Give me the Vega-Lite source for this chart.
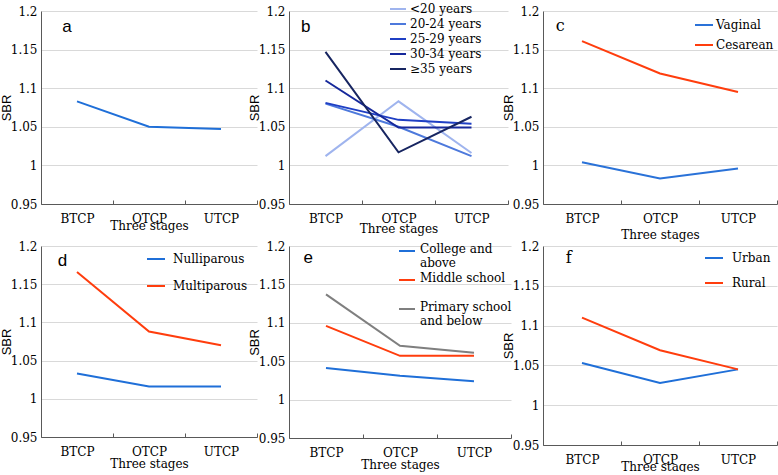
{
  "$schema": "https://vega.github.io/schema/vega-lite/v6.json",
  "background": "white",
  "padding": {"left": 0, "top": 0, "right": 0, "bottom": 0},
  "columns": 3,
  "spacing": {"row": 42, "column": 32},
  "bounds": "flush",
  "resolve": {"scale": {"color": "independent"}, "legend": {"color": "independent"}},
  "concat": [
        {
          "width": 216, "height": 193,
          "layer": [
            {
              "data": {"values": [
                {"stage": "BTCP", "sbr": 1.083},
                {"stage": "OTCP", "sbr": 1.050},
                {"stage": "UTCP", "sbr": 1.047}
              ]},
              "mark": {"type": "line", "strokeWidth": 2, "color": "#1f6fd8"},
              "encoding": {
                "x": {"field": "stage", "type": "nominal", "bandPosition": 0.5, "scale": {"type": "band", "domain": ["BTCP", "OTCP", "UTCP"], "paddingInner": 0, "paddingOuter": 0}, "axis": {"title": "Three stages", "titlePadding": -4}},
                "y": {"field": "sbr", "type": "quantitative", "scale": {"domain": [0.95, 1.2], "zero": false, "nice": false}, "axis": {"title": "SBR"}}
              }
            },
            {
              "data": {"values": [{"stage": "BTCP", "sbr": 1.179, "lab": "a"}]},
              "mark": {"type": "text", "font": "Liberation Sans, Arial, sans-serif", "fontSize": 17, "align": "center", "baseline": "middle", "color": "#000"},
              "encoding": {
                "x": {"field": "stage", "type": "nominal", "bandPosition": 0.36},
                "y": {"field": "sbr", "type": "quantitative"},
                "text": {"field": "lab"}
              }
            }
          ]
        },
        {
          "width": 219, "height": 193,
          "layer": [
            {
              "data": {"values": [
                {"stage": "BTCP", "sbr": 1.012, "group": "<20 years"},
                {"stage": "OTCP", "sbr": 1.083, "group": "<20 years"},
                {"stage": "UTCP", "sbr": 1.016, "group": "<20 years"},
                {"stage": "BTCP", "sbr": 1.080, "group": "20-24 years"},
                {"stage": "OTCP", "sbr": 1.050, "group": "20-24 years"},
                {"stage": "UTCP", "sbr": 1.012, "group": "20-24 years"},
                {"stage": "BTCP", "sbr": 1.081, "group": "25-29 years"},
                {"stage": "OTCP", "sbr": 1.059, "group": "25-29 years"},
                {"stage": "UTCP", "sbr": 1.054, "group": "25-29 years"},
                {"stage": "BTCP", "sbr": 1.110, "group": "30-34 years"},
                {"stage": "OTCP", "sbr": 1.049, "group": "30-34 years"},
                {"stage": "UTCP", "sbr": 1.049, "group": "30-34 years"},
                {"stage": "BTCP", "sbr": 1.147, "group": "≥35 years"},
                {"stage": "OTCP", "sbr": 1.017, "group": "≥35 years"},
                {"stage": "UTCP", "sbr": 1.063, "group": "≥35 years"}
              ]},
              "mark": {"type": "line", "strokeWidth": 2},
              "encoding": {
                "x": {"field": "stage", "type": "nominal", "bandPosition": 0.5, "scale": {"type": "band", "domain": ["BTCP", "OTCP", "UTCP"], "paddingInner": 0, "paddingOuter": 0}, "axis": {"title": "Three stages", "titlePadding": -1}},
                "y": {"field": "sbr", "type": "quantitative", "scale": {"domain": [0.95, 1.2], "zero": false, "nice": false}, "axis": {"title": "SBR"}},
                "color": {"field": "group", "type": "nominal",
                  "scale": {"domain": ["<20 years", "20-24 years", "25-29 years", "30-34 years", "≥35 years"], "range": ["#9fb4ee", "#4d79dc", "#1f3fc4", "#16289b", "#172561"]},
                  "legend": {"title": null, "orient": "none", "legendX": 100, "legendY": -11, "symbolSize": 256, "labelOffset": 3, "rowPadding": 0}}
              }
            },
            {
              "data": {"values": [{"stage": "BTCP", "sbr": 1.179, "lab": "b"}]},
              "mark": {"type": "text", "font": "Liberation Sans, Arial, sans-serif", "fontSize": 17, "align": "center", "baseline": "middle", "color": "#000"},
              "encoding": {
                "x": {"field": "stage", "type": "nominal", "bandPosition": 0.23},
                "y": {"field": "sbr", "type": "quantitative"},
                "text": {"field": "lab"}
              }
            }
          ]
        },
        {
          "width": 234, "height": 193,
          "layer": [
            {
              "data": {"values": [
                {"stage": "BTCP", "sbr": 1.004, "group": "Vaginal"},
                {"stage": "OTCP", "sbr": 0.983, "group": "Vaginal"},
                {"stage": "UTCP", "sbr": 0.996, "group": "Vaginal"},
                {"stage": "BTCP", "sbr": 1.161, "group": "Cesarean"},
                {"stage": "OTCP", "sbr": 1.119, "group": "Cesarean"},
                {"stage": "UTCP", "sbr": 1.095, "group": "Cesarean"}
              ]},
              "mark": {"type": "line", "strokeWidth": 2},
              "encoding": {
                "x": {"field": "stage", "type": "nominal", "bandPosition": 0.5, "scale": {"type": "band", "domain": ["BTCP", "OTCP", "UTCP"], "paddingInner": 0, "paddingOuter": 0}, "axis": {"title": "Three stages", "titlePadding": 5}},
                "y": {"field": "sbr", "type": "quantitative", "scale": {"domain": [0.95, 1.2], "zero": false, "nice": false}, "axis": {"title": "SBR"}},
                "color": {"field": "group", "type": "nominal",
                  "scale": {"domain": ["Vaginal", "Cesarean"], "range": ["#2a72d8", "#ff3d0d"]},
                  "legend": {"title": null, "orient": "none", "legendX": 151, "legendY": 4, "symbolSize": 324, "labelOffset": 2, "rowPadding": 4}}
              }
            },
            {
              "data": {"values": [{"stage": "BTCP", "sbr": 1.181, "lab": "c"}]},
              "mark": {"type": "text", "font": "DejaVu Serif, Liberation Serif, serif", "fontSize": 16, "align": "center", "baseline": "middle", "color": "#000"},
              "encoding": {
                "x": {"field": "stage", "type": "nominal", "bandPosition": 0.22},
                "y": {"field": "sbr", "type": "quantitative"},
                "text": {"field": "lab"}
              }
            }
          ]
        },
        {
          "width": 216, "height": 191,
          "layer": [
            {
              "data": {"values": [
                {"stage": "BTCP", "sbr": 1.033, "group": "Nulliparous"},
                {"stage": "OTCP", "sbr": 1.016, "group": "Nulliparous"},
                {"stage": "UTCP", "sbr": 1.016, "group": "Nulliparous"},
                {"stage": "BTCP", "sbr": 1.166, "group": "Multiparous"},
                {"stage": "OTCP", "sbr": 1.088, "group": "Multiparous"},
                {"stage": "UTCP", "sbr": 1.070, "group": "Multiparous"}
              ]},
              "mark": {"type": "line", "strokeWidth": 2},
              "encoding": {
                "x": {"field": "stage", "type": "nominal", "bandPosition": 0.5, "scale": {"type": "band", "domain": ["BTCP", "OTCP", "UTCP"], "paddingInner": 0, "paddingOuter": 0}, "axis": {"title": "Three stages", "titlePadding": 1}},
                "y": {"field": "sbr", "type": "quantitative", "scale": {"domain": [0.95, 1.2], "zero": false, "nice": false}, "axis": {"title": "SBR"}},
                "color": {"field": "group", "type": "nominal",
                  "scale": {"domain": ["Nulliparous", "Multiparous"], "range": ["#1f6fd8", "#ff3d0d"]},
                  "legend": {"title": null, "orient": "none", "legendX": 105, "legendY": 3, "symbolSize": 324, "labelOffset": 7, "rowPadding": 11}}
              }
            },
            {
              "data": {"values": [{"stage": "BTCP", "sbr": 1.181, "lab": "d"}]},
              "mark": {"type": "text", "font": "Liberation Sans, Arial, sans-serif", "fontSize": 17, "align": "center", "baseline": "middle", "color": "#000"},
              "encoding": {
                "x": {"field": "stage", "type": "nominal", "bandPosition": 0.3},
                "y": {"field": "sbr", "type": "quantitative"},
                "text": {"field": "lab"}
              }
            }
          ]
        },
        {
          "width": 222, "height": 192,
          "layer": [
            {
              "data": {"values": [
                {"stage": "BTCP", "sbr": 1.041, "group": "College and above"},
                {"stage": "OTCP", "sbr": 1.031, "group": "College and above"},
                {"stage": "UTCP", "sbr": 1.024, "group": "College and above"},
                {"stage": "BTCP", "sbr": 1.096, "group": "Middle school"},
                {"stage": "OTCP", "sbr": 1.057, "group": "Middle school"},
                {"stage": "UTCP", "sbr": 1.057, "group": "Middle school"},
                {"stage": "BTCP", "sbr": 1.137, "group": "Primary school and below"},
                {"stage": "OTCP", "sbr": 1.070, "group": "Primary school and below"},
                {"stage": "UTCP", "sbr": 1.061, "group": "Primary school and below"}
              ]},
              "mark": {"type": "line", "strokeWidth": 2},
              "encoding": {
                "x": {"field": "stage", "type": "nominal", "bandPosition": 0.5, "scale": {"type": "band", "domain": ["BTCP", "OTCP", "UTCP"], "paddingInner": 0, "paddingOuter": 0}, "axis": {"title": "Three stages", "titlePadding": 1}},
                "y": {"field": "sbr", "type": "quantitative", "scale": {"domain": [0.95, 1.2], "zero": false, "nice": false}, "axis": {"title": "SBR"}},
                "color": {"field": "group", "type": "nominal",
                  "scale": {"domain": ["College and above", "Middle school", "Primary school and below"], "range": ["#1f6fd8", "#ff3d0d", "#7f7f7f"]},
                  "legend": {"title": null, "orient": "none", "legendX": 109, "legendY": -4, "symbolSize": 256, "labelOffset": 4, "rowPadding": 2, "gridAlign": "all",
                    "labelExpr": "datum.label == 'College and above' ? ['College and', 'above'] : datum.label == 'Primary school and below' ? ['Primary school', 'and below'] : datum.label",
                    "labelBaseline": "top",
                    "encode": {"labels": {"update": {"dy": {"value": -7}, "lineHeight": {"value": 14}}}}}}
              }
            },
            {
              "data": {"values": [{"stage": "BTCP", "sbr": 1.184, "lab": "e"}]},
              "mark": {"type": "text", "font": "Liberation Sans, Arial, sans-serif", "fontSize": 17, "align": "center", "baseline": "middle", "color": "#000"},
              "encoding": {
                "x": {"field": "stage", "type": "nominal", "bandPosition": 0.26},
                "y": {"field": "sbr", "type": "quantitative"},
                "text": {"field": "lab"}
              }
            }
          ]
        },
        {
          "width": 234, "height": 199,
          "layer": [
            {
              "data": {"values": [
                {"stage": "BTCP", "sbr": 1.053, "group": "Urban"},
                {"stage": "OTCP", "sbr": 1.028, "group": "Urban"},
                {"stage": "UTCP", "sbr": 1.045, "group": "Urban"},
                {"stage": "BTCP", "sbr": 1.110, "group": "Rural"},
                {"stage": "OTCP", "sbr": 1.069, "group": "Rural"},
                {"stage": "UTCP", "sbr": 1.045, "group": "Rural"}
              ]},
              "mark": {"type": "line", "strokeWidth": 2},
              "encoding": {
                "x": {"field": "stage", "type": "nominal", "bandPosition": 0.5, "scale": {"type": "band", "domain": ["BTCP", "OTCP", "UTCP"], "paddingInner": 0, "paddingOuter": 0}, "axis": {"title": "Three stages", "titlePadding": -4}},
                "y": {"field": "sbr", "type": "quantitative", "scale": {"domain": [0.95, 1.2], "zero": false, "nice": false}, "axis": {"title": "SBR"}},
                "color": {"field": "group", "type": "nominal",
                  "scale": {"domain": ["Urban", "Rural"], "range": ["#1f6fd8", "#ff3d0d"]},
                  "legend": {"title": null, "orient": "none", "legendX": 161, "legendY": 2, "symbolSize": 324, "labelOffset": 8, "rowPadding": 9}}
              }
            },
            {
              "data": {"values": [{"stage": "BTCP", "sbr": 1.185, "lab": "f"}]},
              "mark": {"type": "text", "font": "DejaVu Serif, Liberation Serif, serif", "fontSize": 16, "align": "center", "baseline": "middle", "color": "#000"},
              "encoding": {
                "x": {"field": "stage", "type": "nominal", "bandPosition": 0.33},
                "y": {"field": "sbr", "type": "quantitative"},
                "text": {"field": "lab"}
              }
            }
          ]
        }
  ],
  "config": {
    "view": {"stroke": null},
    "axis": {
      "labelFont": "DejaVu Serif, Liberation Serif, serif", "labelFontSize": 12, "labelColor": "#000",
      "titleFont": "DejaVu Serif, Liberation Serif, serif", "titleFontSize": 12, "titleFontWeight": "normal", "titleColor": "#000",
      "domainColor": "#595959", "tickColor": "#595959", "gridColor": "#d9d9d9"
    },
    "axisX": {"grid": false, "labelAngle": 0, "tickBand": "extent", "tickSize": -4, "labelPadding": 13},
    "axisY": {"grid": true, "ticks": false, "values": [0.95, 1, 1.05, 1.1, 1.15, 1.2], "format": ".2~f", "labelPadding": 4,
      "titleFont": "Liberation Sans, Arial, sans-serif", "titleFontSize": 13, "titlePadding": -3},
    "legend": {"symbolType": "stroke", "symbolStrokeWidth": 2, "labelFont": "DejaVu Serif, Liberation Serif, serif", "labelFontSize": 12, "labelColor": "#000", "padding": 0}
  }
}
